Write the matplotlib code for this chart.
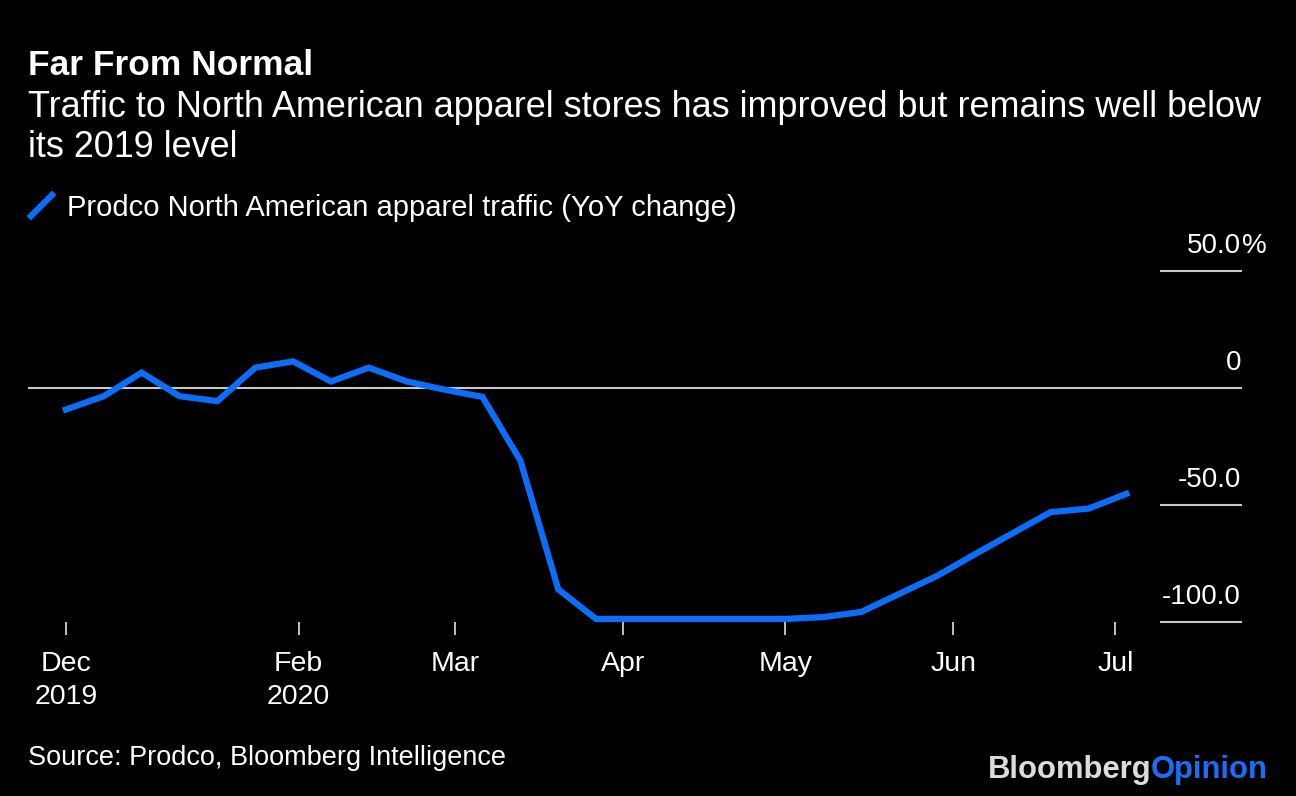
import matplotlib.pyplot as plt
import matplotlib.dates as mdates
from matplotlib.lines import Line2D
import pandas as pd

plt.rcParams['font.family'] = ['Liberation Sans', 'DejaVu Sans']

# weekly YoY change in store traffic, %
dates = pd.date_range('2019-12-20', periods=29, freq='7D')
traffic = [-9.1, -3.4, 6.7, -3.4, -5.5, 8.8, 11.5, 2.9, 8.8, 2.9, -0.6, -3.7,
           -30.9, -86.0, -98.7, -98.7, -98.7, -98.7, -98.7, -98.7, -97.9, -95.7,
           -88.0, -80.3, -71.0, -62.0, -53.0, -51.5, -45.2]

tick_dates = ['2019-12-20', '2020-02-01', '2020-03-01', '2020-04-01',
              '2020-05-01', '2020-06-01', '2020-07-01']
tick_labels = ['Dec\n2019', 'Feb\n2020', 'Mar', 'Apr', 'May', 'Jun', 'Jul']
y_ticks = [50, 0, -50, -100]
y_labels = ['50.0', '0', '-50.0', '-100.0']

BLUE = '#0a6efa'
GRID = '#c8c8c8'
W, H = 1296, 796

fig = plt.figure(figsize=(W / 100, H / 100), dpi=100, facecolor='black')
ax = fig.add_axes([28 / W, 1 - 622 / H, (1241 - 28) / W, (622 - 248) / H])
ax.set_facecolor('black')

x = mdates.date2num(dates)
ax.plot(x, traffic, color=BLUE, lw=4.5, clip_on=False, solid_joinstyle='miter', zorder=3)

ax.set_xlim(x[0] - 7.0, x[-1] + 21.2)
ax.set_ylim(-100, 60)

ax.axhline(0, color=GRID, lw=1.5, zorder=1)
ytr = ax.get_yaxis_transform()
for v, lab in zip(y_ticks, y_labels):
    ax.plot([0.934, 1.0], [v, v], transform=ytr, color=GRID, lw=1.5, clip_on=False)
    ax.annotate(lab, xy=(1.0, v), xycoords=ytr, xytext=(0, 13), textcoords='offset points',
                ha='right', va='baseline', color='white', fontsize=20)
ax.annotate('%', xy=(1.0, 50), xycoords=ytr, xytext=(0.5, 13), textcoords='offset points',
            ha='left', va='baseline', color='white', fontsize=20)

for s in ax.spines.values():
    s.set_visible(False)
ax.set_yticks([])
ax.set_xticks(mdates.date2num(pd.to_datetime(tick_dates)))
ax.set_xticklabels(tick_labels)
ax.tick_params(axis='x', length=9, width=1.3, color='#d0d0d0', labelcolor='white',
               labelsize=20.5, pad=12)
for t in ax.get_xticklabels():
    t.set_linespacing(1.35)

# header
fig.text(28 / W, 1 - 75 / H, 'Far From Normal', color='white', fontsize=25.5,
         fontweight='bold', va='baseline')
fig.text(28 / W, 1 - 117 / H,
         'Traffic to North American apparel stores has improved but remains well below',
         color='white', fontsize=25.9, va='baseline')
fig.text(28 / W, 1 - 157 / H, 'its 2019 level', color='white', fontsize=25.9, va='baseline')

# legend
fig.add_artist(Line2D([31 / W, 52 / W], [1 - 216 / H, 1 - 195 / H], transform=fig.transFigure,
                      color=BLUE, lw=4.5))
fig.text(67 / W, 1 - 216 / H, 'Prodco North American apparel traffic (YoY change)',
         color='white', fontsize=21, va='baseline')

# footer
fig.text(28 / W, 1 - 765 / H, 'Source: Prodco, Bloomberg Intelligence', color='white',
         fontsize=19.5, va='baseline')
op = fig.text(1268 / W, 1 - 778 / H, 'Opinion', color='#1a6ef5', fontsize=22.3,
              fontweight='bold', ha='right', va='baseline')
fig.add_artist(plt.Annotation('Bloomberg', xy=(0, 0), xycoords=op, ha='right', va='bottom',
                              color='#dcdcdc', fontsize=22.3, fontweight='bold'))

fig.savefig('out.png', dpi=100, facecolor='black')
